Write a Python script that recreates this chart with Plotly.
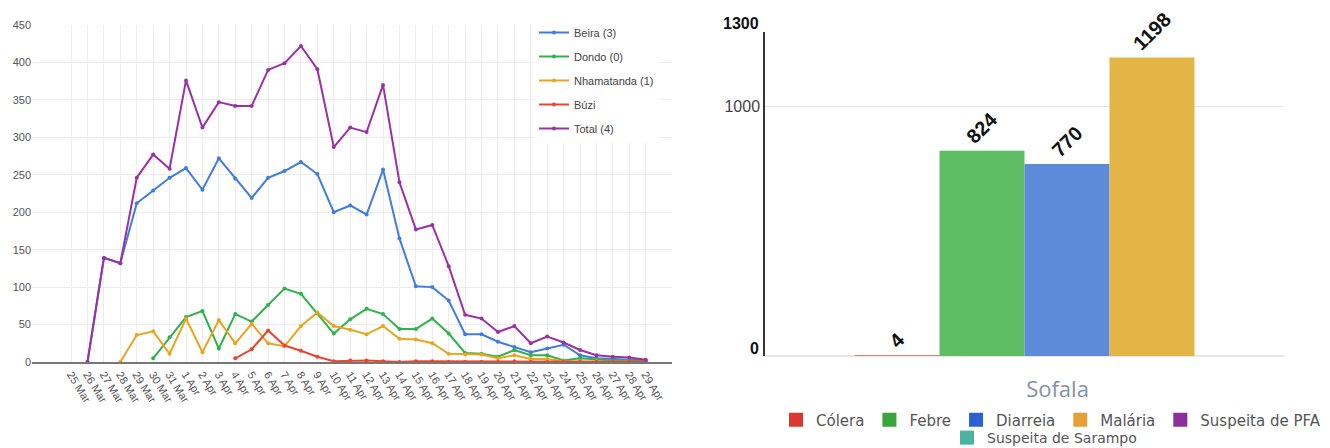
import plotly.graph_objects as go

dates = ["25 Mar", "26 Mar", "27 Mar", "28 Mar", "29 Mar", "30 Mar", "31 Mar",
         "1 Apr", "2 Apr", "3 Apr", "4 Apr", "5 Apr", "6 Apr", "7 Apr", "8 Apr",
         "9 Apr", "10 Apr", "11 Apr", "12 Apr", "13 Apr", "14 Apr", "15 Apr",
         "16 Apr", "17 Apr", "18 Apr", "19 Apr", "20 Apr", "21 Apr", "22 Apr",
         "23 Apr", "24 Apr", "25 Apr", "26 Apr", "27 Apr", "28 Apr", "29 Apr"]

beira = [None, 0, 139, 132, 212, 229, 246, 259, 230, 272, 245, 219, 246, 255, 267,
         251, 200, 209, 197, 257, 165, 101, 100, 82, 37, 37, 27, 20, 13, 18, 23,
         9, 5, 4, 3, 2]
dondo = [None, None, None, None, None, 5, 33, 60, 68, 18, 64, 54, 76, 98, 91,
         65, 38, 57, 71, 64, 44, 44, 58, 38, 12, 11, 7, 16, 9, 9, 2,
         5, 3, 2, 2, 1]
nhamatanda = [None, None, None, 0, 36, 41, 11, 58, 13, 56, 25, 51, 25, 21, 48,
              66, 48, 43, 37, 48, 31, 30, 25, 11, 10, 10, 5, 9, 4, 4, 1,
              1, 1, 0, 0, 0]
buzi = [None, None, None, None, None, None, None, None, None, None, 5, 17, 42, 22, 15,
        7, 1, 2, 2, 1, 0, 1, 1, 0, 0, 0, 0, 1, 0, 0, 0,
        0, 0, 0, 0, 0]
total = [None, 0, 139, 132, 246, 277, 258, 376, 313, 347, 342, 342, 390, 399, 422,
         391, 287, 313, 307, 370, 240, 177, 183, 128, 63, 58, 40, 48, 25, 34, 26,
         16, 9, 7, 6, 3]

line_names = ["Beira (3)", "Dondo (0)", "Nhamatanda (1)", "Búzi", "Total (4)"]
line_colors = ["#3f7de0", "#2fb34a", "#eaa51e", "#e8472f", "#9a31a6"]
line_series = [beira, dondo, nhamatanda, buzi, total]

region = ["Sofala"]
disease_names = ["Cólera", "Febre", "Diarreia", "Malária"]
disease_values = [4, 824, 770, 1198]
bar_colors = ["#ef7f6c", "#5dbd63", "#5d8bd9", "#e3b446"]
legend_names = ["Cólera", "Febre", "Diarreia", "Malária", "Suspeita de PFA",
                "Suspeita de Sarampo"]
legend_colors = ["#d83a2e", "#3aa63a", "#2a62d6", "#e3a236", "#8c2e9c", "#4bb3a0"]

# page body has an 8px margin; figure fills the rest of the window
W, H = 1322, 440


def sx(px):
    return (px - 8) / W


def sy(py):
    return 1 - (py - 8) / H


fig = go.Figure()

for i, (name, col, ser) in enumerate(zip(line_names, line_colors, line_series)):
    fig.add_trace(go.Scatter(
        x=dates, y=ser, name=name, mode="lines+markers",
        line=dict(color=col, width=2), marker=dict(color=col, size=4),
        xaxis="x", yaxis="y", legend="legend", legendgroup="g%d" % i,
        connectgaps=False))

for name, val, col in zip(disease_names, disease_values, bar_colors):
    fig.add_trace(go.Bar(
        x=region, y=[val], name=name, marker=dict(color=col, line=dict(width=0)),
        texttemplate="<b>%{y}</b>", textposition="outside", textangle=-45,
        textfont=dict(size=20, color="#111", family="Liberation Sans, Arial"),
        cliponaxis=False, xaxis="x2", yaxis="y2", showlegend=False))

for k, (name, col) in enumerate(zip(legend_names, legend_colors)):
    fig.add_trace(go.Scatter(
        x=[None], y=[None], name=name, mode="markers",
        marker=dict(symbol="square", size=14, color=col),
        xaxis="x2", yaxis="y2", legend="legend2" if k < 5 else "legend3"))

fig.update_layout(
    width=W, height=H, margin=dict(l=0, r=0, t=0, b=0, autoexpand=False),
    paper_bgcolor="white", plot_bgcolor="white",
    font=dict(family="Liberation Sans, Arial", color="#444"),
    barmode="group", bargap=0.345,
    xaxis=dict(domain=[sx(32), sx(672)], anchor="y", type="category",
               categoryorder="array", categoryarray=dates,
               range=[-2.38, 36.6], tickangle=58,
               tickfont=dict(size=11, color="#555"),
               showgrid=True, gridcolor="#ededed", gridwidth=1,
               showline=True, linecolor="#777", linewidth=2, ticks=""),
    yaxis=dict(domain=[sy(362), sy(25)], anchor="x", range=[0, 450],
               dtick=50, showgrid=True, gridcolor="#ededed", zeroline=False,
               showline=False, tickfont=dict(size=11, color="#555")),
    xaxis2=dict(domain=[sx(765), sx(1284)], anchor="y2", type="category",
                showgrid=False, showline=False, ticks="",
                tickfont=dict(size=22, color="#8591a6", family="Open Sans"),
                ticklabelstandoff=18, ticklabelshift=33),
    yaxis2=dict(domain=[sy(356), sy(32)], anchor="x2", range=[0, 1300],
                tickvals=[1000], ticktext=["1000"], showgrid=True,
                gridcolor="#e6e6e6", zeroline=True, zerolinecolor="#e6e6e6",
                showline=True, linecolor="#333", linewidth=1.5, ticks="",
                tickfont=dict(size=16, color="#444")),
    legend=dict(x=sx(534), y=sy(18), xanchor="left", yanchor="top",
                bgcolor="white", font=dict(size=11, color="#444"),
                traceorder="grouped", tracegroupgap=5, itemwidth=30),
    legend2=dict(orientation="h", x=sx(776), y=sy(420), xanchor="left",
                 yanchor="middle", bgcolor="rgba(0,0,0,0)",
                 font=dict(size=15, color="#555", family="DejaVu Sans")),
    legend3=dict(orientation="h", x=sx(947), y=sy(438), xanchor="left",
                 yanchor="middle", bgcolor="rgba(0,0,0,0)",
                 font=dict(size=14, color="#555", family="DejaVu Sans")),
    annotations=[
        dict(text="<b>1300</b>", x=sx(761), xref="paper", xanchor="right",
             y=1300, yref="y2", yanchor="middle", yshift=9, showarrow=False,
             font=dict(size=16, color="#111")),
        dict(text="<b>0</b>", x=sx(761), xref="paper", xanchor="right",
             y=0, yref="y2", yanchor="middle", yshift=8, showarrow=False,
             font=dict(size=16, color="#111")),
    ],
)

fig.write_html("out.html")
